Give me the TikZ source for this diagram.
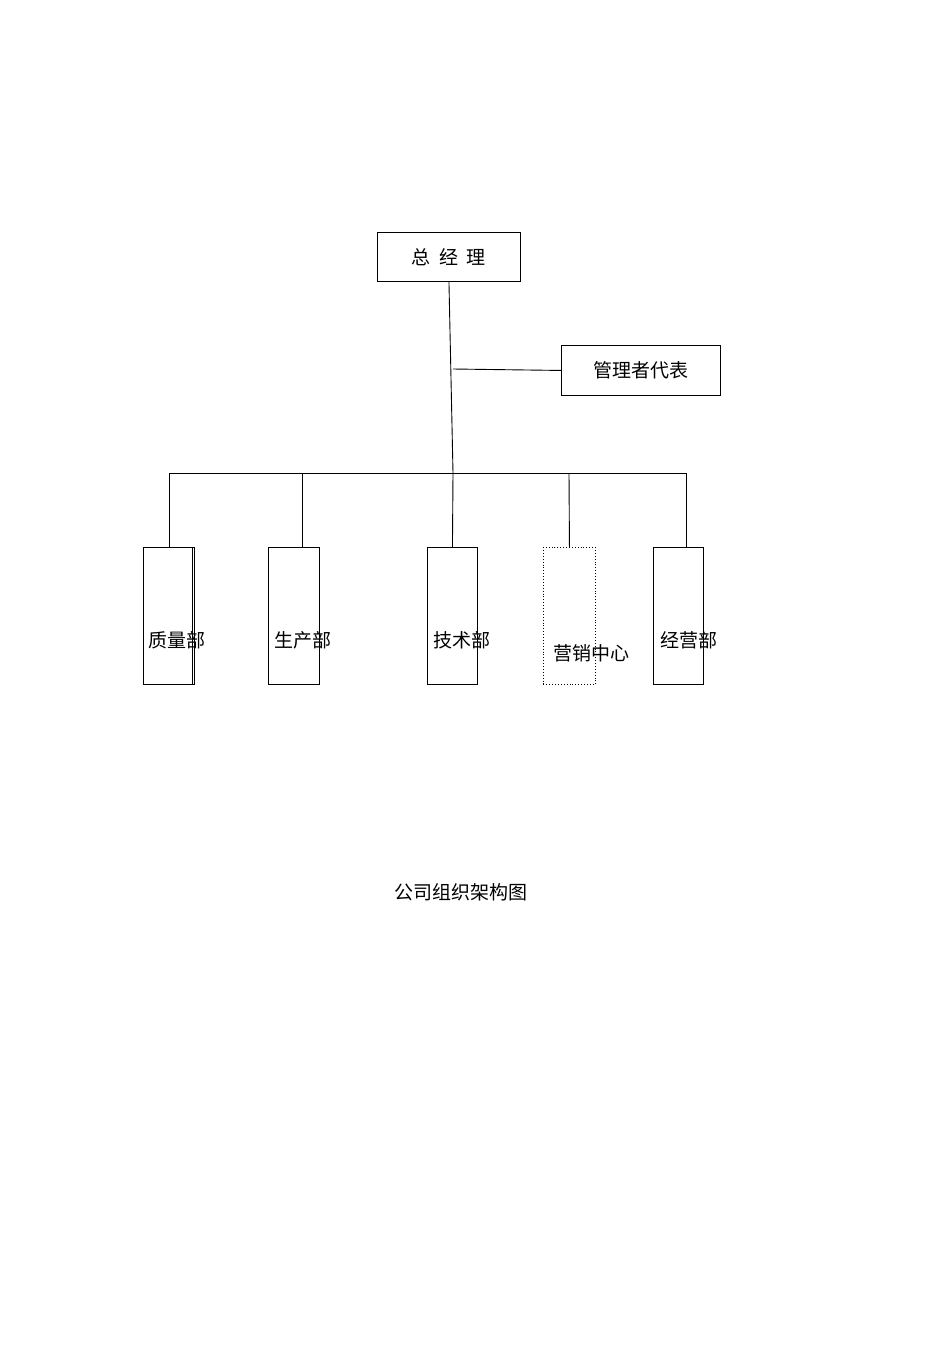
\documentclass[tikz,border=0pt]{standalone}
\usepackage{fontspec}
\newfontfamily\cjk{Noto Sans CJK SC}
\begin{document}
\begin{tikzpicture}[x=1pt,y=-1pt,line width=0.9pt,
  box/.style={draw,inner sep=0pt,anchor=north west},
  lbl/.style={font=\cjk\fontsize{19}{22}\selectfont,inner sep=0pt}]
\useasboundingbox (0,0) rectangle (950,1346);
\node[box,minimum width=143,minimum height=49] (gm) at (377,232) {};
\node[lbl] at (gm.center) {总\ \ 经\ \ 理};
\node[box,minimum width=159,minimum height=50] (rep) at (561,345) {};
\node[lbl] at (rep.center) {管理者代表};
\coordinate (j1) at (453,369);
\coordinate (j2) at (453,473);
\draw (gm.south) -- (j2);
\draw (j1) -- (rep.west);
\node[box,minimum width=51,minimum height=137] (b1) at (143,547) {};
\draw (192,547) -- (192,684);
\node[box,minimum width=51,minimum height=137] (b2) at (268,547) {};
\node[box,minimum width=50,minimum height=137] (b3) at (427,547) {};
\node[box,dotted,minimum width=52,minimum height=137] (b4) at (543,547) {};
\node[box,minimum width=50,minimum height=137] (b5) at (653,547) {};
\draw (169,473) -- (686,473);
\draw (169,473) -- (169,547);
\draw (302,473) -- (302,547);
\draw (j2) -- (b3.north);
\draw (569,473) -- (b4.north);
\draw (686,473) -- (686,547);
\node[lbl] at (177,640) {质量部};
\node[lbl] at (303,640) {生产部};
\node[lbl] at (462,640) {技术部};
\node[lbl] at (591,653) {营销中心};
\node[lbl] at (689,640) {经营部};
\node[lbl] (title) at (461,892) {公司组织架构图};
\end{tikzpicture}
\end{document}
